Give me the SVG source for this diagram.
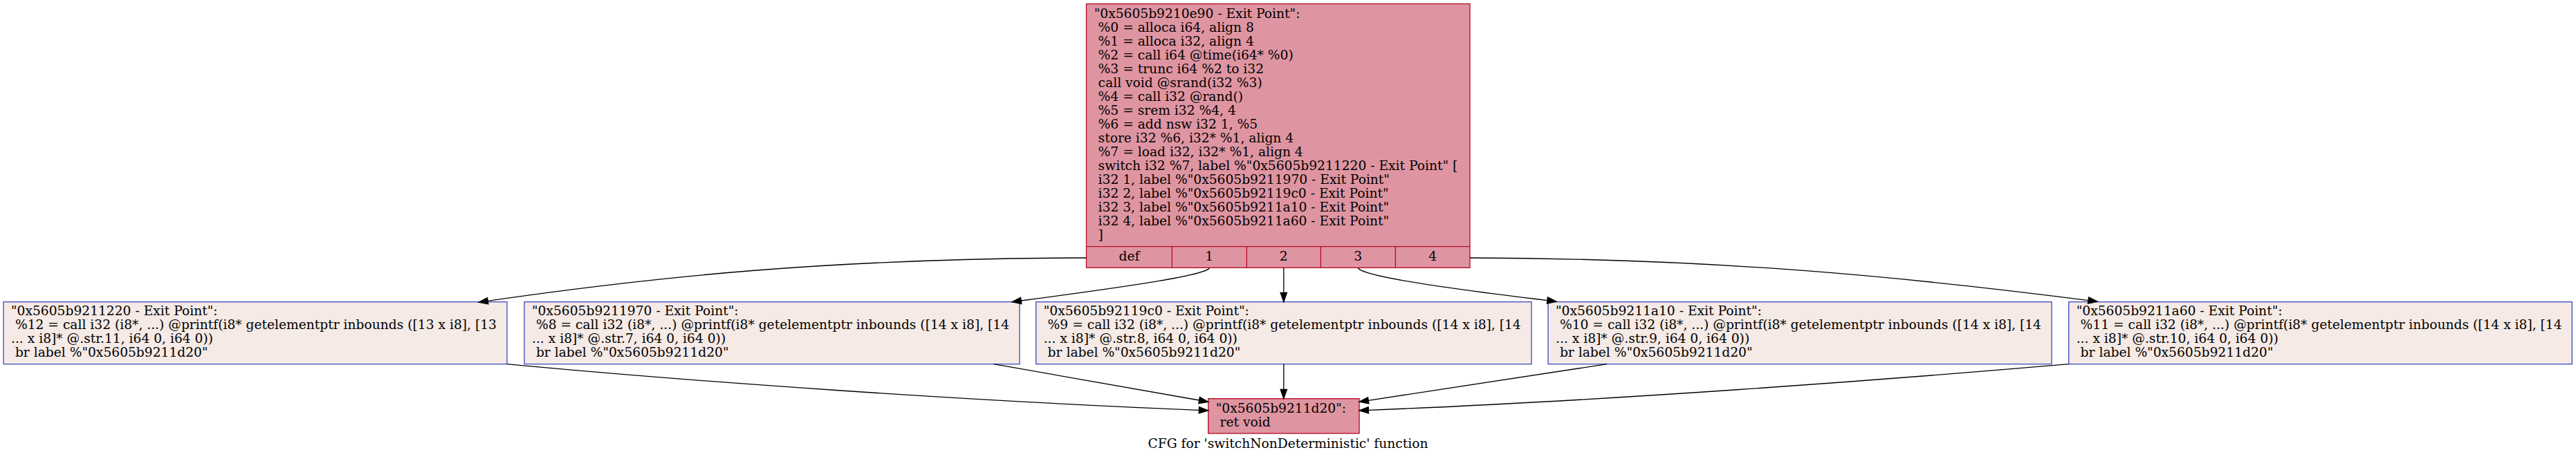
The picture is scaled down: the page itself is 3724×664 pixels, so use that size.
<svg xmlns="http://www.w3.org/2000/svg" width="3724" height="664" viewBox="0 0 3724 664">
<style>
text{font-family:"DejaVu Serif","Liberation Serif",serif;font-size:18.67px;fill:#000;white-space:pre}
.hot{fill:#b70d28;fill-opacity:0.44;stroke:#b70d28;stroke-width:1.33}
.hotline{stroke:#b70d28;stroke-width:1.33;fill:none}
.cold{fill:#f5eae5;stroke:#3d50c3;stroke-width:1.33}
.edge{fill:none;stroke:#000;stroke-width:1.33;marker-end:url(#ah)}
.mid{text-anchor:middle}
</style>
<defs>
<marker id="ah" markerUnits="userSpaceOnUse" markerWidth="16" markerHeight="12" refX="0" refY="4.67" orient="auto" overflow="visible">
<path d="M0,0 L13.3,4.67 L0,9.33 Z" fill="#000" stroke="#000" stroke-width="1.33"/>
</marker>
</defs>
<rect x="0" y="0" width="3724" height="664" fill="#fff"/>

<g id="node_top">
<rect class="hot" x="1570.5" y="5.5" width="554.5" height="381.8"/>
<path class="hotline" d="M1570.5,356.7 H2125 M1694.3,356.7 V387.3 M1802.3,356.7 V387.3 M1909.3,356.7 V387.3 M2017.3,356.7 V387.3"/>
<g xml:space="preserve">
<text x="1581.7" y="26">"0x5605b9210e90 - Exit Point":</text>
<text x="1581.7" y="46"> %0 = alloca i64, align 8</text>
<text x="1581.7" y="66"> %1 = alloca i32, align 4</text>
<text x="1581.7" y="86"> %2 = call i64 @time(i64* %0)</text>
<text x="1581.7" y="106"> %3 = trunc i64 %2 to i32</text>
<text x="1581.7" y="126"> call void @srand(i32 %3)</text>
<text x="1581.7" y="146"> %4 = call i32 @rand()</text>
<text x="1581.7" y="166"> %5 = srem i32 %4, 4</text>
<text x="1581.7" y="186"> %6 = add nsw i32 1, %5</text>
<text x="1581.7" y="206"> store i32 %6, i32* %1, align 4</text>
<text x="1581.7" y="226"> %7 = load i32, i32* %1, align 4</text>
<text x="1581.7" y="246"> switch i32 %7, label %"0x5605b9211220 - Exit Point" [</text>
<text x="1581.7" y="266"> i32 1, label %"0x5605b9211970 - Exit Point"</text>
<text x="1581.7" y="286"> i32 2, label %"0x5605b92119c0 - Exit Point"</text>
<text x="1581.7" y="306"> i32 3, label %"0x5605b9211a10 - Exit Point"</text>
<text x="1581.7" y="326"> i32 4, label %"0x5605b9211a60 - Exit Point"</text>
<text x="1581.7" y="346"> ]</text>
</g>
<text class="mid" x="1632.4" y="377">def</text>
<text class="mid" x="1748.3" y="377">1</text>
<text class="mid" x="1855.8" y="377">2</text>
<text class="mid" x="1963.3" y="377">3</text>
<text class="mid" x="2071.1" y="377">4</text>
</g>

<g id="node_1220" xml:space="preserve">
<rect class="cold" x="5" y="436.7" width="728" height="90"/>
<text x="16" y="456">"0x5605b9211220 - Exit Point":</text>
<text x="16" y="476"> %12 = call i32 (i8*, ...) @printf(i8* getelementptr inbounds ([13 x i8], [13</text>
<text x="16" y="496">... x i8]* @.str.11, i64 0, i64 0))</text>
<text x="16" y="516"> br label %"0x5605b9211d20"</text>
</g>

<g id="node_1970" xml:space="preserve">
<rect class="cold" x="758" y="436.7" width="716" height="90"/>
<text x="769" y="456">"0x5605b9211970 - Exit Point":</text>
<text x="769" y="476"> %8 = call i32 (i8*, ...) @printf(i8* getelementptr inbounds ([14 x i8], [14</text>
<text x="769" y="496">... x i8]* @.str.7, i64 0, i64 0))</text>
<text x="769" y="516"> br label %"0x5605b9211d20"</text>
</g>

<g id="node_19c0" xml:space="preserve">
<rect class="cold" x="1497.7" y="436.7" width="716.3" height="90"/>
<text x="1508.7" y="456">"0x5605b92119c0 - Exit Point":</text>
<text x="1508.7" y="476"> %9 = call i32 (i8*, ...) @printf(i8* getelementptr inbounds ([14 x i8], [14</text>
<text x="1508.7" y="496">... x i8]* @.str.8, i64 0, i64 0))</text>
<text x="1508.7" y="516"> br label %"0x5605b9211d20"</text>
</g>

<g id="node_1a10" xml:space="preserve">
<rect class="cold" x="2238" y="436.7" width="728" height="90"/>
<text x="2249" y="456">"0x5605b9211a10 - Exit Point":</text>
<text x="2249" y="476"> %10 = call i32 (i8*, ...) @printf(i8* getelementptr inbounds ([14 x i8], [14</text>
<text x="2249" y="496">... x i8]* @.str.9, i64 0, i64 0))</text>
<text x="2249" y="516"> br label %"0x5605b9211d20"</text>
</g>

<g id="node_1a60" xml:space="preserve">
<rect class="cold" x="2990.7" y="436.7" width="727.6" height="90"/>
<text x="3001.7" y="456">"0x5605b9211a60 - Exit Point":</text>
<text x="3001.7" y="476"> %11 = call i32 (i8*, ...) @printf(i8* getelementptr inbounds ([14 x i8], [14</text>
<text x="3001.7" y="496">... x i8]* @.str.10, i64 0, i64 0))</text>
<text x="3001.7" y="516"> br label %"0x5605b9211d20"</text>
</g>

<g id="node_1d20" xml:space="preserve">
<rect class="hot" x="1746.7" y="576.7" width="218.3" height="50.3"/>
<text x="1757.7" y="597">"0x5605b9211d20":</text>
<text x="1757.7" y="617"> ret void</text>
</g>

<g id="edges">
<path class="edge" d="M1570.5,373 C1200,374 950,400 705.2,435.3"/>
<path class="edge" d="M1748.3,388 C1740,398 1650,412 1476.2,435"/>
<path class="edge" d="M1855.8,387.3 L1855.8,423.4"/>
<path class="edge" d="M1963.3,388 C1972,399 2080,416 2236.9,434.6"/>
<path class="edge" d="M2125,373 C2480,374 2750,400 3019,434.6"/>
<path class="edge" d="M733,526.7 C1000,552 1400,580 1733.4,593.3"/>
<path class="edge" d="M1436.6,526.7 L1733.6,579"/>
<path class="edge" d="M1855.8,526.7 L1855.8,563.4"/>
<path class="edge" d="M2323,526.7 L1978.2,579.3"/>
<path class="edge" d="M2990.7,526.7 C2720,550 2320,580 1978.3,593.3"/>
</g>

<text class="mid" x="1862" y="648">CFG for 'switchNonDeterministic' function</text>
</svg>
